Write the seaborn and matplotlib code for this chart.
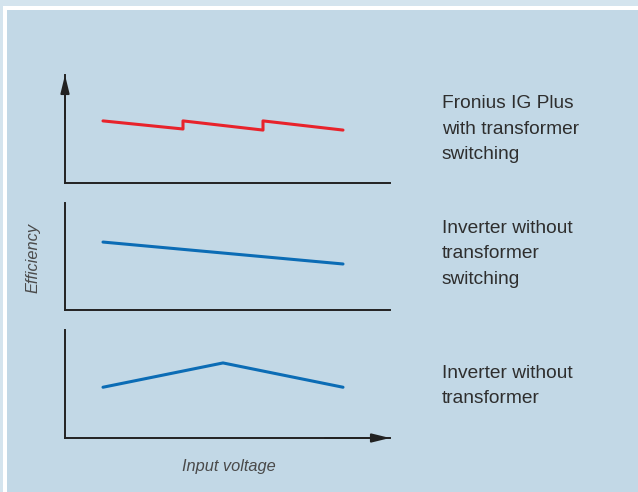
import matplotlib.pyplot as plt
import matplotlib.patches as patches
import seaborn as sns
import pandas as pd

# efficiency curves vs. input voltage (arbitrary units)
fronius_v = [0, 1, 1, 2, 2, 3]
fronius_eff = [5.75, 5.0, 5.75, 4.9, 5.75, 4.9]
switch_v = [0, 3]
switch_eff = [6.35, 4.3]
notrafo_v = [0, 1.5, 3]
notrafo_eff = [4.7, 6.95, 4.7]

labels = ['Fronius IG Plus\nwith transformer\nswitching',
          'Inverter without\ntransformer\nswitching',
          'Inverter without\ntransformer']

RED = '#e8232b'
BLUE = '#0b6cb5'
AXIS = '#222222'
TEXT = '#2e2e2e'
INNER = '#c2d8e6'
OUTER = '#d4e4ee'

sns.set_theme(style='white')
plt.rcParams['font.family'] = ['Liberation Sans', 'DejaVu Sans']

W, H = 638, 492
fig = plt.figure(figsize=(W / 100, H / 100), dpi=100, facecolor=OUTER)

# white frame + light blue panel
fig.patches.append(patches.Rectangle((3 / W, 0), 1, (H - 6) / H, transform=fig.transFigure,
                                     facecolor='white', edgecolor='none', zorder=-2))
fig.patches.append(patches.Rectangle((7 / W, 0), 1, (H - 10) / H, transform=fig.transFigure,
                                     facecolor=INNER, edgecolor='none', zorder=-1))


def make_ax(top, bottom):
    ax = fig.add_axes([65 / W, 1 - bottom / H, 325 / W, (bottom - top) / H])
    ax.set_facecolor('none')
    for s in ['top', 'right']:
        ax.spines[s].set_visible(False)
    for s in ['left', 'bottom']:
        ax.spines[s].set_color(AXIS)
        ax.spines[s].set_linewidth(1.4)
    ax.set_xticks([])
    ax.set_yticks([])
    ax.set_xlim(-0.475, 3.5875)
    ax.set_ylim(0, 10)
    return ax


panels = [
    (75, 183, fronius_v, fronius_eff, RED),
    (203, 310, switch_v, switch_eff, BLUE),
    (330, 438, notrafo_v, notrafo_eff, BLUE),
]

axes = []
for top, bottom, xv, yv, col in panels:
    ax = make_ax(top, bottom)
    df = pd.DataFrame({'v': xv, 'eff': yv})
    sns.lineplot(data=df, x='v', y='eff', sort=False, estimator=None,
                 color=col, linewidth=2.2, ax=ax)
    ax.set_xlabel('')
    ax.set_ylabel('')
    axes.append(ax)

# arrow heads
arrow = dict(arrowstyle='-|>,head_length=0.9,head_width=0.22',
             color=AXIS, lw=1.4, shrinkA=0, shrinkB=0)
axes[0].annotate('', xy=(0, 1.0), xytext=(0, 0.6), xycoords='axes fraction', arrowprops=arrow)
axes[2].annotate('', xy=(1.0, 0), xytext=(0.8, 0), xycoords='axes fraction', arrowprops=arrow)

# right-hand descriptions
label_y = [129, 254, 386]
for txt, y in zip(labels, label_y):
    fig.text(442 / W, 1 - y / H, txt, ha='left', va='center', fontsize=13.8,
             color=TEXT, linespacing=1.66)

fig.text(33 / W, 1 - 258 / H, 'Efficiency', rotation=90, ha='center', va='center',
         fontsize=11.8, style='italic', color='#4a4a4a')
fig.text(229 / W, 1 - 467 / H, 'Input voltage', ha='center', va='center',
         fontsize=11.8, style='italic', color='#4a4a4a')

fig.savefig('out.png', dpi=100, facecolor=OUTER)
